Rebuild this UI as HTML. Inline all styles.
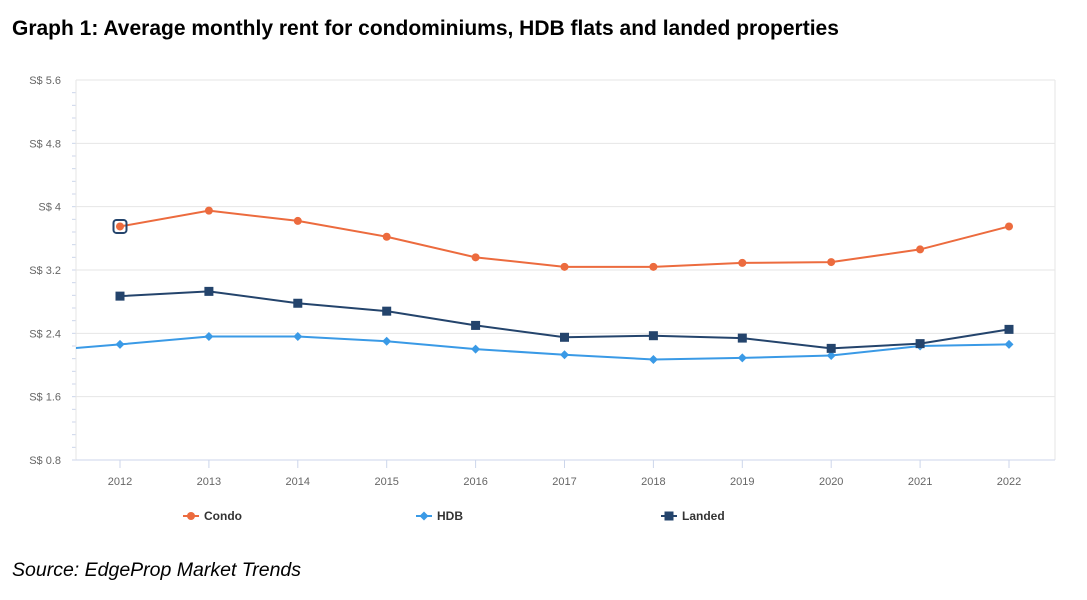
<!DOCTYPE html>
<html><head><meta charset="utf-8"><style>
body{margin:0;background:#fff;width:1087px;height:600px;overflow:hidden;font-family:"Liberation Sans",sans-serif}
#title{position:absolute;left:12px;top:17px;font-size:21px;font-weight:bold;color:#000;white-space:nowrap}
#src{position:absolute;left:12px;top:559px;font-size:19.5px;font-style:italic;color:#000}
svg{position:absolute;left:0;top:0}
</style></head><body>
<div id="title">Graph 1: Average monthly rent for condominiums, HDB flats and landed properties</div>
<div id="src">Source: EdgeProp Market Trends</div>
<svg id="chart" width="1087" height="600"></svg>
<script>
const years=[2011,2012,2013,2014,2015,2016,2017,2018,2019,2020,2021,2022];
const condo=[null,3.75,3.95,3.82,3.62,3.36,3.24,3.24,3.29,3.30,3.46,3.75];
const hdb=[2.17,2.26,2.36,2.36,2.30,2.20,2.13,2.07,2.09,2.12,2.24,2.26];
const landed=[null,2.87,2.93,2.78,2.68,2.50,2.35,2.37,2.34,2.21,2.27,2.45];
const yTicks=[0.8,1.6,2.4,3.2,4.0,4.8,5.6];
const yTickLabels=["S$ 0.8","S$ 1.6","S$ 2.4","S$ 3.2","S$ 4","S$ 4.8","S$ 5.6"];
const xLabels=["2012","2013","2014","2015","2016","2017","2018","2019","2020","2021","2022"];

const svg=document.getElementById('chart');const NS='http://www.w3.org/2000/svg';
const L=76,R=1055,T=80,B=460;
const x=yr=>120+(yr-2012)*88.9;
const y=v=>B-(v-0.8)/(5.6-0.8)*(B-T);
function mk(t,a,p){const e=document.createElementNS(NS,t);for(const k in a)e.setAttribute(k,a[k]);(p||svg).appendChild(e);return e;}
const defs=mk('defs',{});const cp=mk('clipPath',{id:'clip'},defs);mk('rect',{x:L,y:T-10,width:R-L,height:B-T+20},cp);
yTicks.forEach((v,i)=>{
 const g=mk('line',{x1:L,x2:R,y1:y(v),y2:y(v),stroke:'#e6e6e6','stroke-width':1});
 
 const t=mk('text',{x:61,y:y(v)+4,'text-anchor':'end','font-size':11,fill:'#666'});t.textContent=yTickLabels[i];
 
});
for(let v=0.8;v<5.6;v+=0.16){mk('line',{x1:L-4,x2:L,y1:y(v),y2:y(v),stroke:'#ccd6eb','stroke-width':1});}
mk('line',{x1:L,x2:L,y1:T,y2:B,stroke:'#e6e6e6'});
mk('line',{x1:R,x2:R,y1:T,y2:B,stroke:'#e6e6e6'});
mk('line',{x1:L,x2:R,y1:B,y2:B,stroke:'#ccd6eb'});
xLabels.forEach((l,i)=>{const xx=x(2012+i);
 mk('line',{x1:xx,x2:xx,y1:B,y2:B+8,stroke:'#ccd6eb'});
 const t=mk('text',{x:xx,y:485,'text-anchor':'middle','font-size':11,fill:'#666'});t.textContent=l;
 
});
function series(vals,color,name,marker){
 const g=mk('g',{'clip-path':'url(#clip)'});
 
 let d='';vals.forEach((v,i)=>{if(v==null)return;d+=(d?'L':'M')+x(years[i])+','+y(v);});
 mk('path',{d:d,fill:'none',stroke:color,'stroke-width':2},g);
 vals.forEach((v,i)=>{if(v==null)return;const cx=x(years[i]),cy=y(v);let m;
  if(marker==='circle')m=mk('circle',{cx:cx,cy:cy,r:4,fill:color},g);
  else if(marker==='square')m=mk('rect',{x:cx-4.5,y:cy-4.5,width:9,height:9,fill:color},g);
  else m=mk('path',{d:`M${cx},${cy-4.5}L${cx+4.5},${cy}L${cx},${cy+4.5}L${cx-4.5},${cy}Z`,fill:color},g);
  });
}
series(hdb,'#3a9ae6','hdb','diamond');
series(landed,'#24446c','landed','square');
series(condo,'#ec6b3e','condo','circle');
const hl=mk('rect',{x:x(2012)-6.5,y:y(condo[1])-6.5,width:13,height:13,rx:3,fill:'none',stroke:'#24446c','stroke-width':2});

const leg=[['Condo','#ec6b3e','circle',183],['HDB','#3a9ae6','diamond',416],['Landed','#24446c','square',661]];
leg.forEach(([n,c,m,lx])=>{const g=mk('g',{});
 
 const cy=516;mk('line',{x1:lx,x2:lx+16,y1:cy,y2:cy,stroke:c,'stroke-width':2},g);
 const cx=lx+8;
 if(m==='circle')mk('circle',{cx:cx,cy:cy,r:4,fill:c},g);
 else if(m==='square')mk('rect',{x:cx-4.5,y:cy-4.5,width:9,height:9,fill:c},g);
 else mk('path',{d:`M${cx},${cy-4.5}L${cx+4.5},${cy}L${cx},${cy+4.5}L${cx-4.5},${cy}Z`,fill:c},g);
 const t=mk('text',{x:lx+21,y:cy+4,'font-size':12,'font-weight':'bold',fill:'#333'},g);t.textContent=n;});
</script>
</body></html>
